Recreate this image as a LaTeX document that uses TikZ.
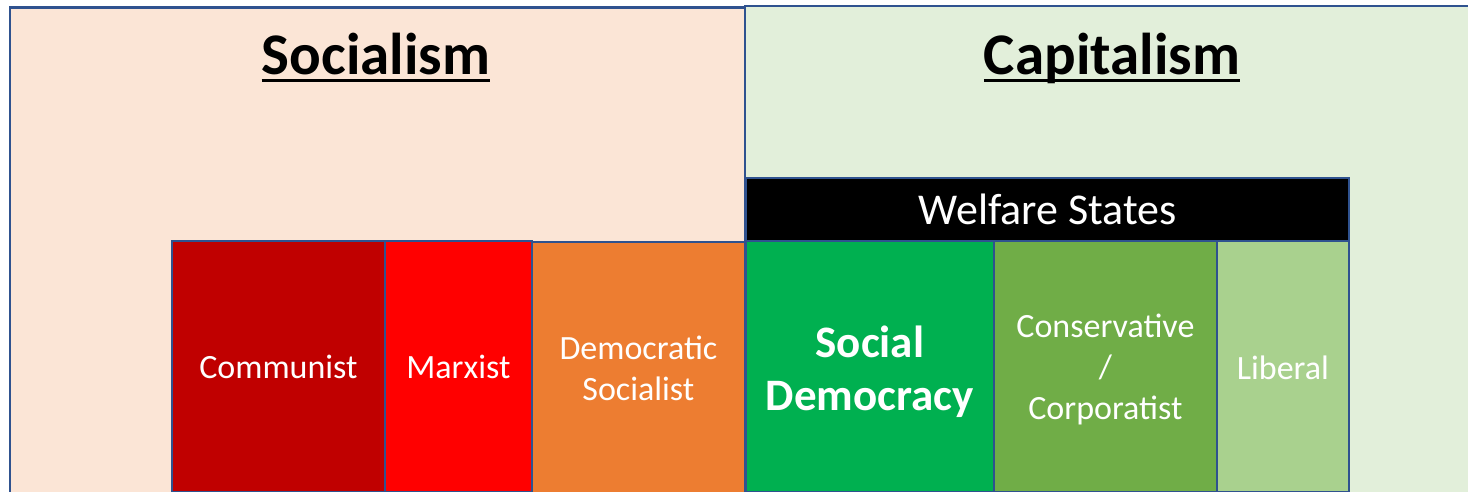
\documentclass[tikz,border=0pt]{standalone}
\usepackage{fontspec}
\setmainfont{Carlito}
\definecolor{socbg}{HTML}{FBE5D6}
\definecolor{capbg}{HTML}{E2EFDA}
\definecolor{bordblue}{HTML}{2F528F}
\definecolor{communist}{HTML}{C00000}
\definecolor{marxist}{HTML}{FF0000}
\definecolor{demsoc}{HTML}{ED7D31}
\definecolor{socdem}{HTML}{00B050}
\definecolor{conserv}{HTML}{70AD47}
\definecolor{liberal}{HTML}{A9D18E}
\tikzset{
  outerbox/.style={draw=bordblue, line width=2.6pt},
  colbox/.style={draw=bordblue, line width=1.8pt, inner sep=0pt, anchor=north west,
    minimum height=251pt},
  coltext/.style={inner sep=0pt, text=white, align=center,
    font=\fontsize{34}{41}\selectfont},
  titletext/.style={inner sep=0pt, anchor=base, font=\fontsize{59}{70}\selectfont\bfseries},
  ulined/.style={line width=3pt}
}
\begin{document}
\begin{tikzpicture}[x=1pt,y=-1pt]
\useasboundingbox (0,0) rectangle (1468,492);
\clip (0,0) rectangle (1468,492);
\fill[white] (0,0) rectangle (1468,492);
% background regions
\draw[outerbox, fill=socbg] (10,7.5) rectangle (745,520);
\draw[outerbox, fill=capbg] (745,6) rectangle (1500,520);
% titles
\node[titletext] (soc) at (376,75) {Socialism};
\draw[ulined] ([yshift=-6pt]soc.base west) -- ([yshift=-6pt]soc.base east);
\node[titletext] (cap) at (1112,75) {Capitalism};
\draw[ulined] ([yshift=-6pt]cap.base west) -- ([yshift=-6pt]cap.base east);
% welfare states bar
\node[draw=bordblue, line width=2.4pt, fill=black, text=white, inner sep=0pt, anchor=north west,
  minimum width=603pt, minimum height=63pt, font=\fontsize{44}{52}\selectfont] (welfare) at (745,177) {Welfare States};
% columns
\node[colbox, fill=communist, minimum width=213pt] (comm) at (171,240) {};
\node[colbox, fill=marxist, minimum width=147pt] (marx) at (384,240) {};
\node[colbox, fill=demsoc, minimum width=213pt] (dems) at (531,241) {};
\node[colbox, fill=socdem, minimum width=248pt] (sdem) at (745,240) {};
\node[colbox, fill=conserv, minimum width=223pt] (cons) at (993,240) {};
\node[colbox, fill=liberal, minimum width=132pt] (lib) at (1216,240) {};
% column labels
\node[coltext] (commt) at ([yshift=-1pt]comm.center) {Communist};
\node[coltext] (marxt) at ([yshift=-1pt]marx.center) {Marxist};
\node[coltext] (demst) at ([yshift=-1pt]dems.center) {Democratic\\Socialist};
\node[coltext, font=\fontsize{45}{53}\selectfont\bfseries] (sdemt) at ([yshift=-5pt]sdem.center) {Social\\Democracy};
\node[coltext] (const) at ([yshift=-3pt]cons.center) {Conservative\\/\\Corporatist};
\node[coltext] (libt) at ([yshift=-1pt]lib.center) {Liberal};
\end{tikzpicture}
\end{document}
